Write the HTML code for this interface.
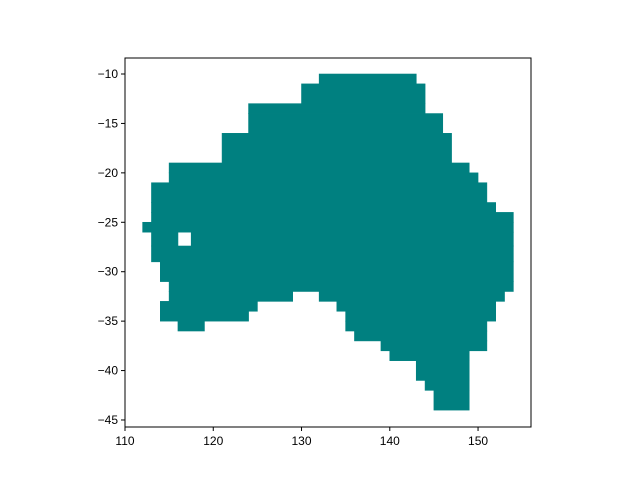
<!DOCTYPE html>
<html><head><meta charset="utf-8"><style>
body{margin:0;background:#fff}
svg{display:block;font-family:"Liberation Sans","DejaVu Sans",sans-serif}
</style></head><body>
<svg id="chart" width="640" height="480">
  <rect width="640" height="480" fill="#fff"/>
  <g id="cells"></g>
  <rect x="125" y="58" width="406" height="369" fill="none" stroke="#000" stroke-width="1"/>
  <g id="xticks"></g>
  <g id="yticks"></g>
</svg>
<script>
// segments: [latTop, latBottom, lonLeft, lonRight]
const rowLatTop = [-10,-11,-13,-14,-16,-19,-20,-21,-23,-24,-25,-26,-26,-27.4,-29,-31,-32,-32,-33,-33,-34,-34,-35,-35,-36,-37,-38,-39,-41,-42];
const rowLatBot = [-11,-13,-14,-16,-19,-20,-21,-23,-24,-25,-26,-27.4,-27.4,-29,-31,-32,-33,-33,-34,-34,-35,-35,-36,-36,-37,-38,-39,-41,-42,-44];
const rowLonL = [132,130,124,124,121,115,115,113,113,113,112,113,117.5,113,114,115,115,132,114,134,114,135,116,135,136,139,140,143,144,145];
const rowLonR = [143,144,144,146,147,149,150,151,152,154,154,116,154,154,154,154,129,153,125,152,124,152,119,151,151,151,149,149,149,149];
const xTicks = [110,120,130,140,150];
const yTicks = [-10,-15,-20,-25,-30,-35,-40,-45];

const X0=125, X1=531, Y0=58, Y1=427;
const xMin=110, xMax=156, yMax=-8.38, yMin=-45.71;
const sx = v => X0 + (v-xMin)/(xMax-xMin)*(X1-X0);
const sy = v => Y0 + (yMax-v)/(yMax-yMin)*(Y1-Y0);
const NS="http://www.w3.org/2000/svg";
const cells=document.getElementById('cells');
for(let i=0;i<rowLatTop.length;i++){
  const r=document.createElementNS(NS,'rect');
  const x=sx(rowLonL[i]), x2=sx(rowLonR[i]), y=sy(rowLatTop[i]), y2=sy(rowLatBot[i]);
  r.setAttribute('x',x);r.setAttribute('y',y);
  r.setAttribute('width',x2-x);r.setAttribute('height',y2-y);
  r.setAttribute('fill','#008080');r.setAttribute('stroke','#008080');r.setAttribute('stroke-width','0.6');
  
  
  cells.appendChild(r);
}
const xg=document.getElementById('xticks');
xTicks.forEach(t=>{
  const x=sx(t);
  const l=document.createElementNS(NS,'line');
  l.setAttribute('x1',x);l.setAttribute('x2',x);l.setAttribute('y1',Y1);l.setAttribute('y2',Y1+4);
  l.setAttribute('stroke','#000');
  
  
  xg.appendChild(l);
  const tx=document.createElementNS(NS,'text');
  tx.setAttribute('x',x);tx.setAttribute('y',Y1+18);tx.setAttribute('text-anchor','middle');tx.setAttribute('font-size','12');
  tx.textContent=t;
  
  
  xg.appendChild(tx);
});
const yg=document.getElementById('yticks');
yTicks.forEach(t=>{
  const y=sy(t);
  const l=document.createElementNS(NS,'line');
  l.setAttribute('x1',X0-4);l.setAttribute('x2',X0);l.setAttribute('y1',y);l.setAttribute('y2',y);
  l.setAttribute('stroke','#000');
  
  
  yg.appendChild(l);
  const tx=document.createElementNS(NS,'text');
  tx.setAttribute('x',X0-7);tx.setAttribute('y',y+4);tx.setAttribute('text-anchor','end');tx.setAttribute('font-size','12');
  tx.textContent='\u2212'+Math.abs(t);
  
  
  yg.appendChild(tx);
});
</script>
</body></html>
